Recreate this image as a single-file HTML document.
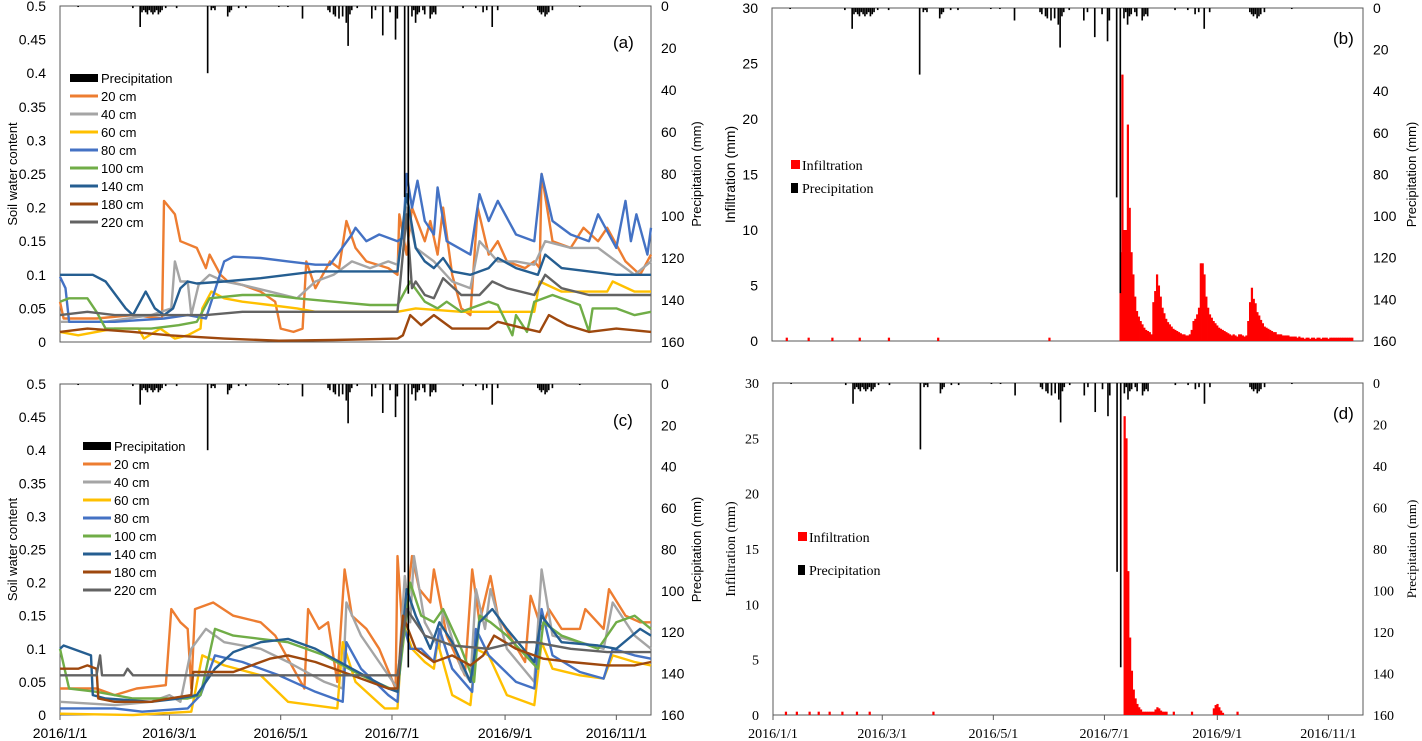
<!DOCTYPE html>
<html><head><meta charset="utf-8">
<style>
html,body{margin:0;padding:0;background:#fff;}
svg{display:block;}
.sans{font-family:"Liberation Sans",sans-serif;}
.serif{font-family:"Liberation Serif",serif;}
</style></head>
<body>
<svg id="fig" width="1422" height="741" viewBox="0 0 1422 741" xmlns="http://www.w3.org/2000/svg"></svg>
<script>
// ---------- DATA ----------
const dateTickLabels = ["2016/1/1","2016/3/1","2016/5/1","2016/7/1","2016/9/1","2016/11/1"];
const dateTickDays = [0,60,121,182,244,305];
const swcTicks = [0,0.05,0.1,0.15,0.2,0.25,0.3,0.35,0.4,0.45,0.5];
const swcTickLabels = ["0","0.05","0.1","0.15","0.2","0.25","0.3","0.35","0.4","0.45","0.5"];
const precipTicks = [0,20,40,60,80,100,120,140,160];
const infTicks = [0,5,10,15,20,25,30];
const depthNames = ["20 cm","40 cm","60 cm","80 cm","100 cm","140 cm","180 cm","220 cm"];

const precipDays = [10,40,44,45,46,47,48,49,50,51,52,53,54,55,56,58,64,81,83,84,85,92,93,94,98,102,120,125,133,147,148,150,151,153,155,157,158,159,160,163,171,173,177,181,184,185,189,191,193,194,195,196,197,199,200,203,204,205,206,221,228,232,234,237,240,262,263,264,265,266,267,268,270,285];
const precipVals = [0.5,1,10,3,2,3,4,2,3,4,3,2,4,3,2,1,1,32,2,1,2,5,3,2,1,1,0.5,0.5,6,2,3,4,5,6,5,8,19,4,2,1,6,2,14,3,16,6,91,137,5,2,8,4,3,2,4,6,4,3,4,1,1,3,2,10,2,2,3,4,3,5,4,3,2,0.5];

// panel (a)
const a20 = [[0,0.06],[2,0.035],[20,0.035],[40,0.04],[56,0.035],[57,0.21],[63,0.19],[66,0.15],[75,0.14],[80,0.11],[82,0.13],[88,0.1],[92,0.09],[100,0.085],[110,0.075],[118,0.06],[121,0.02],[128,0.015],[133,0.02],[135,0.12],[140,0.08],[148,0.12],[153,0.11],[157,0.18],[162,0.14],[168,0.12],[180,0.11],[185,0.1],[186,0.19],[190,0.13],[193,0.2],[200,0.15],[203,0.18],[207,0.13],[210,0.2],[215,0.1],[220,0.05],[225,0.04],[229,0.2],[235,0.13],[240,0.15],[245,0.12],[255,0.11],[260,0.12],[263,0.11],[264,0.25],[270,0.15],[280,0.14],[287,0.17],[295,0.15],[300,0.17],[310,0.12],[318,0.1],[324,0.13]];
const a40 = [[0,0.03],[25,0.03],[50,0.04],[61,0.05],[63,0.12],[66,0.09],[70,0.09],[72,0.04],[76,0.085],[82,0.1],[90,0.09],[100,0.085],[115,0.075],[130,0.065],[140,0.09],[150,0.1],[160,0.12],[170,0.11],[180,0.12],[185,0.115],[190,0.2],[195,0.14],[205,0.12],[215,0.09],[225,0.08],[230,0.15],[240,0.12],[250,0.12],[260,0.115],[266,0.15],[280,0.14],[295,0.14],[305,0.12],[315,0.1],[324,0.12]];
const a60 = [[0,0.015],[10,0.01],[30,0.02],[43,0.02],[46,0.005],[55,0.02],[63,0.005],[70,0.01],[77,0.02],[78,0.05],[83,0.075],[90,0.065],[100,0.06],[115,0.055],[130,0.05],[140,0.045],[185,0.045],[195,0.05],[220,0.045],[260,0.045],[263,0.09],[275,0.075],[300,0.075],[303,0.09],[315,0.075],[324,0.075]];
const a80 = [[0,0.097],[3,0.08],[5,0.03],[30,0.03],[57,0.035],[70,0.04],[80,0.035],[90,0.12],[95,0.127],[110,0.125],[125,0.12],[140,0.115],[148,0.115],[152,0.13],[160,0.16],[162,0.17],[168,0.15],[175,0.16],[185,0.15],[188,0.155],[190,0.25],[193,0.2],[196,0.24],[200,0.18],[205,0.16],[207,0.23],[212,0.15],[225,0.13],[230,0.22],[235,0.18],[240,0.21],[250,0.16],[260,0.15],[264,0.25],[270,0.18],[280,0.16],[290,0.15],[295,0.19],[305,0.14],[310,0.21],[313,0.15],[316,0.19],[322,0.13],[324,0.17]];
const a100 = [[0,0.06],[5,0.065],[15,0.065],[20,0.045],[25,0.02],[50,0.02],[65,0.025],[75,0.03],[82,0.065],[100,0.07],[115,0.07],[130,0.065],[150,0.06],[170,0.055],[185,0.055],[192,0.09],[200,0.06],[207,0.05],[212,0.06],[220,0.045],[235,0.06],[240,0.055],[248,0.01],[250,0.04],[256,0.015],[260,0.06],[270,0.07],[285,0.055],[290,0.015],[292,0.05],[305,0.05],[315,0.04],[324,0.045]];
const a140 = [[0,0.1],[18,0.1],[25,0.09],[36,0.05],[40,0.04],[47,0.075],[52,0.05],[57,0.04],[62,0.05],[66,0.08],[70,0.09],[75,0.087],[90,0.09],[110,0.095],[125,0.1],[140,0.105],[185,0.105],[190,0.22],[195,0.14],[200,0.12],[205,0.11],[210,0.125],[215,0.105],[225,0.1],[235,0.11],[240,0.125],[250,0.11],[262,0.1],[266,0.13],[275,0.11],[290,0.105],[305,0.1],[324,0.1]];
const a180 = [[0,0.015],[15,0.02],[40,0.015],[60,0.01],[90,0.005],[120,0.002],[150,0.003],[185,0.005],[188,0.01],[192,0.04],[198,0.025],[205,0.04],[215,0.02],[235,0.02],[240,0.03],[255,0.02],[263,0.015],[268,0.04],[278,0.025],[290,0.015],[305,0.02],[324,0.015]];
const a220 = [[0,0.04],[15,0.045],[30,0.04],[80,0.04],[100,0.045],[185,0.045],[190,0.19],[193,0.08],[195,0.09],[200,0.07],[205,0.065],[210,0.095],[220,0.07],[230,0.07],[237,0.09],[245,0.08],[260,0.07],[266,0.1],[275,0.08],[290,0.07],[324,0.07]];

// panel (c)
const c20 = [[0,0.04],[20,0.04],[30,0.03],[42,0.04],[58,0.045],[61,0.16],[66,0.14],[70,0.13],[72,0.04],[74,0.16],[84,0.17],[95,0.15],[110,0.14],[118,0.12],[130,0.06],[134,0.04],[136,0.16],[142,0.13],[147,0.14],[152,0.05],[156,0.22],[160,0.15],[168,0.13],[175,0.1],[184,0.04],[185,0.24],[188,0.12],[193,0.24],[197,0.19],[203,0.17],[205,0.22],[212,0.12],[222,0.06],[226,0.22],[230,0.14],[236,0.21],[240,0.15],[255,0.08],[258,0.18],[264,0.13],[268,0.16],[275,0.13],[285,0.13],[288,0.16],[298,0.13],[301,0.19],[310,0.15],[318,0.14],[324,0.14]];
const c40 = [[0,0.02],[30,0.015],[50,0.02],[60,0.03],[66,0.02],[72,0.1],[80,0.13],[90,0.11],[110,0.1],[125,0.08],[145,0.05],[155,0.04],[157,0.17],[165,0.12],[175,0.08],[185,0.04],[189,0.21],[192,0.14],[194,0.24],[200,0.14],[208,0.1],[210,0.16],[220,0.07],[225,0.05],[228,0.19],[233,0.13],[236,0.19],[245,0.1],[260,0.05],[264,0.22],[270,0.12],[285,0.11],[298,0.1],[303,0.17],[315,0.12],[324,0.1]];
const c60 = [[0,0.002],[40,0],[72,0.005],[78,0.09],[90,0.075],[110,0.06],[125,0.02],[152,0.01],[155,0.11],[162,0.05],[178,0.01],[185,0.01],[188,0.14],[193,0.1],[200,0.08],[205,0.07],[207,0.11],[215,0.03],[225,0.015],[228,0.1],[235,0.09],[245,0.03],[260,0.015],[264,0.11],[270,0.07],[285,0.06],[298,0.055],[303,0.09],[315,0.08],[324,0.075]];
const c80 = [[0,0.01],[30,0.01],[45,0.005],[70,0.01],[77,0.03],[85,0.09],[100,0.08],[120,0.06],[140,0.035],[155,0.02],[157,0.11],[165,0.07],[180,0.03],[185,0.02],[188,0.14],[192,0.1],[198,0.1],[205,0.08],[208,0.13],[215,0.07],[226,0.035],[228,0.13],[235,0.09],[250,0.05],[260,0.04],[264,0.16],[270,0.09],[285,0.065],[298,0.055],[303,0.1],[315,0.09],[324,0.085]];
const c100 = [[0,0.1],[5,0.04],[20,0.035],[40,0.025],[70,0.025],[77,0.03],[85,0.13],[95,0.12],[110,0.115],[125,0.11],[145,0.09],[165,0.06],[185,0.035],[192,0.2],[198,0.15],[205,0.14],[210,0.16],[220,0.1],[227,0.05],[230,0.15],[236,0.14],[245,0.12],[262,0.07],[265,0.14],[275,0.12],[295,0.1],[305,0.14],[315,0.15],[324,0.13]];
const c140 = [[0,0.1],[2,0.105],[17,0.09],[18,0.03],[25,0.025],[50,0.02],[65,0.025],[75,0.03],[85,0.07],[95,0.095],[110,0.11],[125,0.115],[140,0.1],[160,0.07],[180,0.04],[185,0.035],[190,0.19],[195,0.15],[203,0.1],[208,0.14],[215,0.11],[225,0.05],[230,0.14],[237,0.16],[245,0.13],[260,0.08],[264,0.15],[275,0.11],[295,0.105],[305,0.1],[318,0.13],[324,0.12]];
const c180 = [[0,0.07],[10,0.07],[15,0.075],[20,0.07],[21,0.025],[30,0.02],[50,0.02],[60,0.025],[72,0.03],[73,0.065],[95,0.065],[115,0.085],[125,0.09],[140,0.08],[160,0.06],[180,0.04],[185,0.04],[188,0.15],[195,0.1],[205,0.08],[215,0.09],[225,0.075],[232,0.09],[238,0.12],[250,0.1],[265,0.085],[280,0.08],[300,0.075],[315,0.075],[324,0.08]];
const c220 = [[0,0.06],[20,0.06],[22,0.09],[23,0.06],[35,0.06],[37,0.07],[40,0.06],[120,0.06],[185,0.06],[190,0.16],[200,0.12],[215,0.105],[235,0.1],[250,0.11],[260,0.11],[280,0.1],[300,0.095],[324,0.095]];

// infiltration (b): small events + continuous record
const infBSmallDays = [8,20,33,48,64,91,152];
const infBSmallVals = [0.3,0.3,0.3,0.3,0.3,0.3,0.3];
const infBStart = 191;
const infBVals = [8,24,10,10,19.5,12,8,6,4,2.7,2.2,1.8,1.5,1.2,1,0.9,0.8,0.6,3.5,4.5,6,5,4,3,2.5,2,1.7,1.5,1.3,1.1,1,0.9,0.8,0.7,0.6,0.6,0.5,0.5,0.6,1,1.8,2,2.4,3,7,7,6,4,3,2.4,2.1,1.8,1.6,1.4,1.2,1.1,1,0.9,0.8,0.7,0.6,0.5,0.6,0.5,0.4,0.6,0.6,0.5,0.4,0.5,1.8,3.5,4.8,3.8,3.4,2.6,2.3,1.9,1.6,1.3,1.2,1.1,1,0.9,0.8,0.8,0.6,0.6,0.6,0.5,0.5,0.5,0.5,0.4,0.4,0.4,0.4,0.3,0.4,0.3,0.3,0.2,0.3,0.3,0.2,0.3,0.3,0.2,0.3,0.3,0.2,0.3,0.3,0.3,0.2,0.3,0.3,0.3,0.3,0.3,0.3,0.3,0.3,0.3,0.3,0.3,0.3,0.3];
// infiltration (d)
const infDDays = [7,13,20,25,31,38,46,53,88,193,194,195,196,197,198,199,200,201,202,203,204,205,206,207,208,209,210,211,212,213,214,215,216,220,230,242,243,244,245,246,247,255];
const infDVals = [0.3,0.3,0.3,0.3,0.3,0.3,0.3,0.3,0.3,27,25,13,7,4,2.3,1.5,1,0.7,0.5,0.3,0.3,0.3,0.3,0.3,0.3,0.3,0.5,0.7,0.6,0.4,0.3,0.3,0.3,0.3,0.3,0.6,0.9,1,0.7,0.4,0.2,0.3];

// ---------- DRAWING ----------
const NS = "http://www.w3.org/2000/svg";
const svg = document.getElementById('fig');
const colors = ["#ED7D31","#A5A5A5","#FFC000","#4472C4","#70AD47","#255E91","#9E480E","#636363"];
const DAYMAX = 324;

function el(tag, attrs, parent, text){
  const e = document.createElementNS(NS, tag);
  for (const k in attrs) e.setAttribute(k, attrs[k]);
  if (text !== undefined) e.textContent = text;
  (parent || svg).appendChild(e);
  return e;
}

function makePanel(L, R, T, B){
  return {
    L, R, T, B,
    x: d => L + (d / DAYMAX) * (R - L),
    yP: p => T + (p / 160) * (B - T)
  };
}

function frame(p, name){
  const g = el('g', {}, svg);
  
  
  el('rect', {x:p.L, y:p.T, width:p.R-p.L, height:p.B-p.T, fill:'none', stroke:'#595959', 'stroke-width':1}, g);
  return g;
}

function precipBars(p, name){
  const g = el('g', {}, svg);
  
  
  const w = (p.R - p.L) / DAYMAX;
  for (let i = 0; i < precipDays.length; i++){
    const r = el('rect', {x:p.x(precipDays[i]) - w/2, y:p.T, width:Math.max(1.2, w*0.9), height:p.yP(precipVals[i]) - p.T, fill:'#000'}, g);
    
    
  }
}

function rightAxis(p, name, cls, fs, titleX){
  const g = el('g', {class:cls}, svg);
  
  
  precipTicks.forEach(t => {
    el('text', {x:p.R + 10, y:p.yP(t) + fs*0.35, 'font-size':fs, fill:'#000'}, g, String(t));
  });
  const t = el('text', {x:titleX, y:(p.T+p.B)/2, 'font-size':13, 'text-anchor':'middle', transform:`rotate(-90 ${titleX} ${(p.T+p.B)/2})`}, g, 'Precipitation (mm)');
  
  
}

function dateAxis(p, name, cls){
  const g = el('g', {class:cls}, svg);
  
  
  dateTickDays.forEach((d, i) => {
    el('line', {x1:p.x(d), x2:p.x(d), y1:p.B, y2:p.B+5, stroke:'#595959'}, g);
    el('text', {x:p.x(d), y:p.B + 23, 'font-size':14, 'text-anchor':'middle'}, g, dateTickLabels[i]);
  });
}

function swcPanel(p, name, series, label, legX, legY){
  frame(p, name);
  const ySW = v => p.B - (v / 0.5) * (p.B - p.T);
  const g = el('g', {class:'sans'}, svg);
  
  
  swcTicks.forEach((t, i) => {
    el('text', {x:p.L - 14, y:ySW(t) + 5, 'font-size':14, 'text-anchor':'end'}, g, swcTickLabels[i]);
  });
  const cy = (p.T+p.B)/2;
  const yt = el('text', {x:17, y:cy, 'font-size':13, 'text-anchor':'middle', transform:`rotate(-90 17 ${cy})`}, g, 'Soil water content');
  
  

  const lg = el('g', {}, svg);
  
  
  series.forEach((s, i) => {
    const pts = s.map(q => p.x(q[0]).toFixed(1) + ',' + ySW(q[1]).toFixed(1)).join(' ');
    const pl = el('polyline', {points:pts, fill:'none', stroke:colors[i], 'stroke-width':2.4, 'stroke-linejoin':'round'}, lg);
    
    
  });
  precipBars(p, name);
  rightAxis(p, name, 'sans', 14, 701);

  const leg = el('g', {class:'sans'}, svg);
  
  
  el('rect', {x:legX, y:legY-4, width:28, height:8, fill:'#000'}, leg);
  el('text', {x:legX+31, y:legY+5, 'font-size':13}, leg, 'Precipitation');
  depthNames.forEach((n, i) => {
    const yy = legY + 18*(i+1);
    const e = el('g', {}, leg);
    
    
    el('line', {x1:legX, x2:legX+28, y1:yy, y2:yy, stroke:colors[i], 'stroke-width':3}, e);
    el('text', {x:legX+31, y:yy+5, 'font-size':13}, e, n);
  });
  const pl = el('text', {x:p.R - 38, y:p.T + 42, 'font-size':17, class:'sans'}, svg, label);
  
  
}

function infPanel(p, name, days, vals, label, tickCls, legX, legY1, legY2){
  frame(p, name);
  const yI = v => p.B - (v / 30) * (p.B - p.T);
  const w = (p.R - p.L) / DAYMAX;
  const g = el('g', {}, svg);
  
  
  for (let i = 0; i < days.length; i++){
    const r = el('rect', {x:p.x(days[i]) - w/2, y:yI(vals[i]), width:w+0.4, height:p.B - yI(vals[i]), fill:'#FF0000'}, g);
    
    
  }
  precipBars(p, name);
  const ax = el('g', {class:tickCls}, svg);
  
  
  infTicks.forEach(t => {
    el('text', {x:p.L - 14, y:yI(t) + 5, 'font-size':14, 'text-anchor':'end'}, ax, String(t));
  });
  const cy = (p.T+p.B)/2;
  const yt = el('text', {x:735, y:cy, 'font-size':14, 'text-anchor':'middle', transform:`rotate(-90 735 ${cy})`}, ax, 'Infiltration (mm)');
  
  
  rightAxis(p, name, tickCls, 14, 1416);

  const leg = el('g', {class:'serif'}, svg);
  
  
  el('rect', {x:legX, y:legY1-5, width:9, height:9, fill:'#FF0000'}, leg);
  el('text', {x:legX+11, y:legY1+5, 'font-size':14}, leg, 'Infiltration');
  el('rect', {x:legX, y:legY2-5, width:7, height:10, fill:'#000'}, leg);
  el('text', {x:legX+11, y:legY2+5, 'font-size':14}, leg, 'Precipitation');
  const pl = el('text', {x:p.R - 30, y:p.T + 36, 'font-size':17, class:'sans'}, svg, label);
  
  
}

// build (b) day/value lists from data arrays
const infBDays = infBSmallDays.slice();
const infBAll = infBSmallVals.slice();
infBVals.forEach((v, i) => { infBDays.push(infBStart + i); infBAll.push(v); });

const pA = makePanel(60, 651, 6, 342);
const pB = makePanel(772, 1363, 8, 341);
const pC = makePanel(60, 651, 384, 715);
const pD = makePanel(773, 1363, 383, 715);

swcPanel(pA, 'panel-a', [a20,a40,a60,a80,a100,a140,a180,a220], '(a)', 70, 78);
swcPanel(pC, 'panel-c', [c20,c40,c60,c80,c100,c140,c180,c220], '(c)', 83, 446);
infPanel(pB, 'panel-b', infBDays, infBAll, '(b)', 'sans', 791, 165, 188);
infPanel(pD, 'panel-d', infDDays, infDVals, '(d)', 'serif', 798, 537, 570);
dateAxis(pC, 'panel-c', 'sans');
dateAxis(pD, 'panel-d', 'serif');
</script>
</body></html>
